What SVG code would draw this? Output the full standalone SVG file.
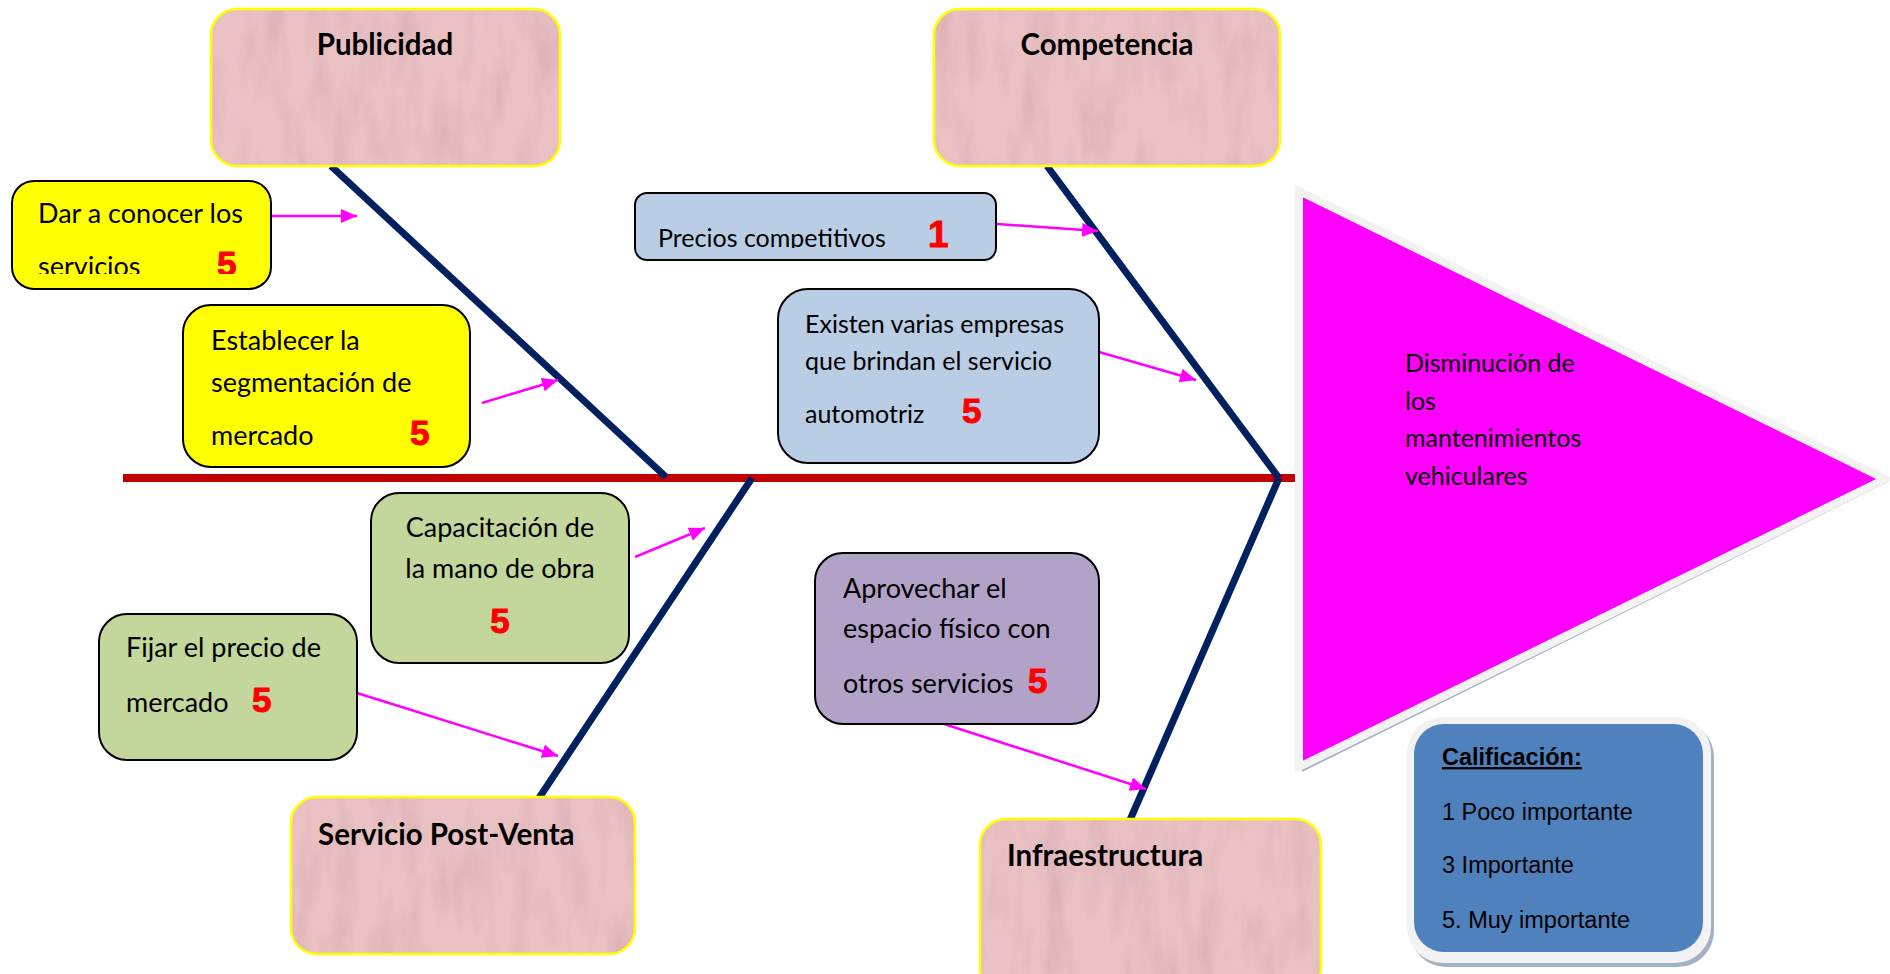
<svg xmlns="http://www.w3.org/2000/svg" width="1890" height="974" viewBox="0 0 1890 974">
  <style>
    .bone{stroke:#002060;stroke-width:7;fill:none}
    .spine{stroke:#C00000;stroke-width:8;fill:none}
    .arrow{stroke:#FF00FF;stroke-width:2.5;fill:none;marker-end:url(#ah)}
    .paper{fill:#E9C1C3;filter:url(#paper)}
    .paper-edge{fill:none;stroke:#FFFF00;stroke-width:2.5}
    .box{stroke:#000;stroke-width:2}
    .yellow{fill:#FFFF00}
    .blue{fill:#B9CDE5}
    .green{fill:#C3D69B}
    .purple{fill:#B2A2C7}
    .t{font-family:Lato,"Liberation Sans",sans-serif;font-size:27px;fill:#000}
    .ts{font-size:25px}
    .head{font-family:Lato,"Liberation Sans",sans-serif;font-size:29.5px;font-weight:bold;fill:#000}
    .num{font-family:"Liberation Sans",Arial,sans-serif;font-size:35px;font-weight:bold;fill:#FF0000;stroke:#FF0000;stroke-width:1}
    .leg{font-family:"Liberation Sans",Arial,sans-serif;font-size:23.5px;fill:#000}
  </style>
  <defs>
    <marker id="ah" markerUnits="userSpaceOnUse" markerWidth="16" markerHeight="14" refX="16" refY="7" orient="auto">
      <path d="M0,0 L16,7 L0,14 z" fill="#FF00FF"/>
    </marker>
    <!-- recycled-paper grain for the category boxes -->
    <filter id="paper" x="0" y="0" width="1" height="1" color-interpolation-filters="sRGB">
      <feTurbulence type="fractalNoise" baseFrequency="0.045 0.012" numOctaves="4" seed="11" result="noise"/>
      <feColorMatrix in="noise" type="matrix" values="0 0 0 0 0.80  0 0 0 0 0.62  0 0 0 0 0.65  0 0 0 0.9 -0.38" result="spots"/>
      <feComposite in="spots" in2="SourceGraphic" operator="atop"/>
    </filter>
    <clipPath id="clipDar"><rect x="12" y="181" width="259" height="93"/></clipPath>
    <clipPath id="clipPrecios"><rect x="635" y="193" width="361" height="55"/></clipPath>
  </defs>

  <!-- spine and bones -->
  <g id="connectors">
    <line class="spine" x1="123" y1="478" x2="1300" y2="478"/>
    <line class="bone" x1="331" y1="166" x2="666" y2="477"/>
    <line class="bone" x1="1047" y1="166" x2="1279" y2="478"/>
    <line class="bone" x1="752" y1="478" x2="539" y2="798"/>
    <line class="bone" x1="1279" y1="478" x2="1130" y2="820"/>
    <line class="arrow" x1="272" y1="216" x2="357" y2="216"/>
    <line class="arrow" x1="482" y1="403" x2="558" y2="380"/>
    <line class="arrow" x1="997" y1="224" x2="1098" y2="231"/>
    <line class="arrow" x1="1099" y1="352" x2="1196" y2="380"/>
    <line class="arrow" x1="635" y1="557" x2="705" y2="528"/>
    <line class="arrow" x1="357" y1="693" x2="558" y2="756"/>
    <line class="arrow" x1="944" y1="724" x2="1146" y2="789"/>
  </g>

  <!-- categories -->
  <g id="publicidad">
    <rect class="paper" x="211" y="9" width="349" height="157" rx="26"/>
    <rect class="paper-edge" x="211" y="9" width="349" height="157" rx="26"/>
    <text class="head" x="385" y="55" text-anchor="middle">Publicidad</text>
  </g>
  <g id="competencia">
    <rect class="paper" x="934" y="9" width="346" height="157" rx="26"/>
    <rect class="paper-edge" x="934" y="9" width="346" height="157" rx="26"/>
    <text class="head" x="1107" y="55" text-anchor="middle">Competencia</text>
  </g>
  <g id="servicio-post-venta">
    <rect class="paper" x="291" y="797" width="344" height="157" rx="26"/>
    <rect class="paper-edge" x="291" y="797" width="344" height="157" rx="26"/>
    <text class="head" x="318" y="845">Servicio Post-Venta</text>
  </g>
  <g id="infraestructura">
    <rect class="paper" x="980" y="819" width="341" height="175" rx="26"/>
    <rect class="paper-edge" x="980" y="819" width="341" height="175" rx="26"/>
    <text class="head" x="1007" y="866">Infraestructura</text>
  </g>

  <!-- causes -->
  <g id="dar-a-conocer">
    <rect class="box yellow" x="12" y="181" width="259" height="108" rx="22"/>
    <text class="t" x="38" y="223">Dar a conocer los</text>
    <g clip-path="url(#clipDar)">
      <text class="t" x="38" y="276">servicios</text>
      <text class="num" x="217" y="276">5</text>
    </g>
  </g>
  <g id="segmentacion">
    <rect class="box yellow" x="183" y="305" width="287" height="162" rx="28"/>
    <text class="t" x="211" y="350">Establecer la</text>
    <text class="t" x="211" y="392">segmentación de</text>
    <text class="t" x="211" y="445">mercado</text>
    <text class="num" x="410" y="445">5</text>
  </g>
  <g id="precios">
    <rect class="box blue" x="635" y="193" width="361" height="67" rx="12"/>
    <g clip-path="url(#clipPrecios)">
      <text class="t ts" x="658" y="247">Precios competitivos</text>
    </g>
    <text class="num" x="928" y="247" style="font-size:37px">1</text>
  </g>
  <g id="empresas">
    <rect class="box blue" x="778" y="289" width="321" height="174" rx="30"/>
    <text class="t ts" x="805" y="333">Existen varias empresas</text>
    <text class="t ts" x="805" y="370">que brindan el servicio</text>
    <text class="t ts" x="805" y="423">automotriz</text>
    <text class="num" x="962" y="423">5</text>
  </g>
  <g id="capacitacion">
    <rect class="box green" x="371" y="493" width="258" height="170" rx="28"/>
    <text class="t" x="500" y="537" text-anchor="middle">Capacitación de</text>
    <text class="t" x="500" y="578" text-anchor="middle">la mano de obra</text>
    <text class="num" x="500" y="633" text-anchor="middle">5</text>
  </g>
  <g id="precio-mercado">
    <rect class="box green" x="99" y="614" width="258" height="146" rx="28"/>
    <text class="t" x="126" y="657">Fijar el precio de</text>
    <text class="t" x="126" y="712">mercado</text>
    <text class="num" x="252" y="712">5</text>
  </g>
  <g id="espacio-fisico">
    <rect class="box purple" x="815" y="553" width="284" height="171" rx="28"/>
    <text class="t" x="843" y="598">Aprovechar el</text>
    <text class="t" x="843" y="638">espacio físico con</text>
    <text class="t" x="843" y="693">otros servicios</text>
    <text class="num" x="1028" y="693">5</text>
  </g>

  <!-- effect -->
  <g id="efecto">
    <polygon points="1302,196 1888,482 1302,772" fill="#A3B1C4"/>
    <polygon points="1299,191 1885,479 1299,767" fill="#FF00FF" stroke="#F2F2F2" stroke-width="8" stroke-linejoin="miter"/>
    <text class="t ts" x="1405" y="372">Disminución de</text>
    <text class="t ts" x="1405" y="410">los</text>
    <text class="t ts" x="1405" y="447">mantenimientos</text>
    <text class="t ts" x="1405" y="485">vehiculares</text>
  </g>

  <!-- rating legend -->
  <g id="calificacion">
    <rect x="1410" y="721" width="304" height="246" rx="36" fill="#A3B1C4"/>
    <rect x="1407" y="717" width="304" height="246" rx="36" fill="#F2F2F2"/>
    <rect x="1414" y="724" width="289" height="228" rx="30" fill="#4F81BD"/>
    <text class="leg" x="1442" y="765" font-weight="bold" text-decoration="underline">Calificación:</text>
    <text class="leg" x="1442" y="820">1 Poco importante</text>
    <text class="leg" x="1442" y="873">3 Importante</text>
    <text class="leg" x="1442" y="928">5. Muy importante</text>
  </g>
</svg>
